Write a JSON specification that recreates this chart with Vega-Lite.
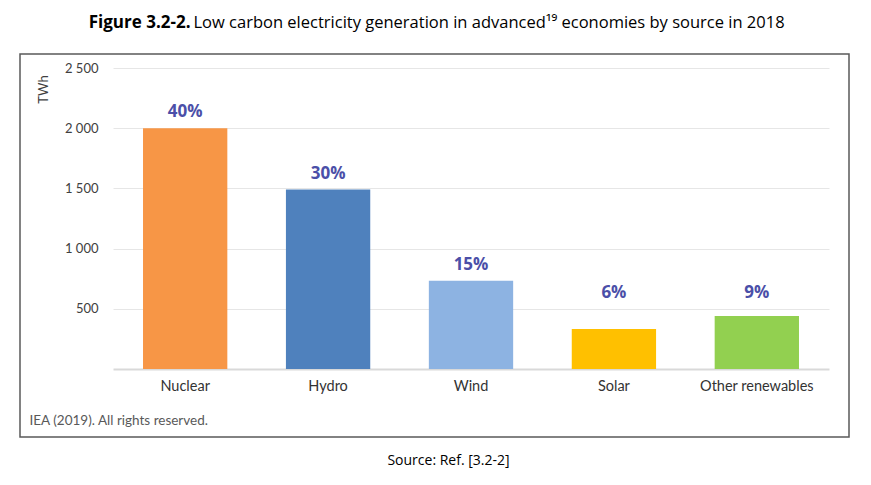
{
  "$schema": "https://vega.github.io/schema/vega-lite/v6.json",
  "description": "Low carbon electricity generation in advanced economies by source in 2018",
  "width": 829,
  "height": 383,
  "autosize": "none",
  "padding": {"left": 20, "top": 54, "right": 22, "bottom": 48},
  "background": "white",
  "title": {
    "text": "Source: Ref. [3.2-2]",
    "orient": "bottom",
    "anchor": "middle",
    "frame": "group",
    "dx": 14,
    "offset": 17,
    "font": "Open Sans",
    "fontSize": 14,
    "fontWeight": "normal",
    "color": "#000000"
  },
  "config": {
    "view": {"stroke": "#5a5a5a", "strokeWidth": 1.5}
  },
  "data": {
    "values": [
      {"source": "Nuclear", "twh": 2000, "share": "40%"},
      {"source": "Hydro", "twh": 1490, "share": "30%"},
      {"source": "Wind", "twh": 732, "share": "15%"},
      {"source": "Solar", "twh": 333, "share": "6%"},
      {"source": "Other renewables", "twh": 441, "share": "9%"}
    ]
  },
  "layer": [
    {
      "mark": {"type": "bar"},
      "encoding": {
        "x": {
          "field": "source",
          "type": "nominal",
          "sort": null,
          "scale": {"range": [93, 809], "paddingInner": 0.41, "paddingOuter": 0.21},
          "axis": {
            "orient": "bottom",
            "offset": -68,
            "grid": false,
            "ticks": false,
            "domainColor": "#d9d9d9",
            "domainWidth": 2,
            "labelAngle": 0,
            "labelFont": "Lato",
            "labelFontSize": 14.5,
            "labelColor": "#333333",
            "labelPadding": 10,
            "title": "IEA (2019). All rights reserved.",
            "titleFont": "Lato",
            "titleFontSize": 13.5,
            "titleFontWeight": "normal",
            "titleColor": "#595959",
            "titleAlign": "left",
            "titleBaseline": "middle",
            "titleX": 9,
            "titleY": 51
          }
        },
        "y": {
          "field": "twh",
          "type": "quantitative",
          "scale": {"domain": [0, 2500], "range": [315, 14], "nice": false},
          "axis": {
            "orient": "left",
            "offset": -93,
            "values": [500, 1000, 1500, 2000, 2500],
            "labelExpr": "replace(format(datum.value, ','), ',', ' ')",
            "domain": false,
            "ticks": false,
            "grid": true,
            "gridColor": "#e6e6e6",
            "gridWidth": 1,
            "labelFont": "Lato",
            "labelFontSize": 13,
            "labelColor": "#404040",
            "labelPadding": 15,
            "title": "TWh",
            "titleFont": "Lato",
            "titleFontSize": 13,
            "titleFontWeight": "normal",
            "titleColor": "#404040",
            "titleAngle": -90,
            "titleAlign": "center",
            "titleBaseline": "middle",
            "titleX": -70,
            "titleY": 35
          }
        },
        "color": {
          "field": "source",
          "type": "nominal",
          "legend": null,
          "scale": {
            "domain": ["Nuclear", "Hydro", "Wind", "Solar", "Other renewables"],
            "range": ["#f79646", "#4f81bd", "#8db3e2", "#ffc000", "#92d050"]
          }
        }
      }
    },
    {
      "transform": [{"calculate": "max(datum.twh, 500)", "as": "label_at"}],
      "mark": {
        "type": "text",
        "dy": -16,
        "baseline": "middle",
        "align": "center",
        "font": "Open Sans",
        "fontSize": 17,
        "fontWeight": "bold",
        "color": "#4b4fa8"
      },
      "encoding": {
        "x": {
          "field": "source",
          "type": "nominal",
          "sort": null,
          "scale": {"range": [93, 809], "paddingInner": 0.41, "paddingOuter": 0.21},
          "axis": {
            "orient": "top",
            "labels": false,
            "domain": false,
            "ticks": false,
            "grid": false,
            "title": "Figure 3.2-2.",
            "titleFont": "Open Sans",
            "titleFontSize": 17,
            "titleFontWeight": "bold",
            "titleColor": "#000000",
            "titleAlign": "right",
            "titleBaseline": "middle",
            "titleX": 170,
            "titleY": -32
          }
        },
        "y": {
          "field": "label_at",
          "type": "quantitative",
          "scale": {"domain": [0, 2500], "range": [315, 14], "nice": false},
          "axis": {
            "orient": "right",
            "labels": false,
            "domain": false,
            "ticks": false,
            "grid": false,
            "title": "Low carbon electricity generation in advanced\u00b9\u2079 economies by source in 2018",
            "titleFont": "Open Sans",
            "titleFontSize": 16.5,
            "titleFontWeight": "normal",
            "titleColor": "#000000",
            "titleAngle": 0,
            "titleAlign": "left",
            "titleBaseline": "middle",
            "titleX": -656,
            "titleY": -32
          }
        },
        "text": {"field": "share"}
      }
    }
  ],
  "resolve": {"axis": {"x": "independent", "y": "independent"}}
}
